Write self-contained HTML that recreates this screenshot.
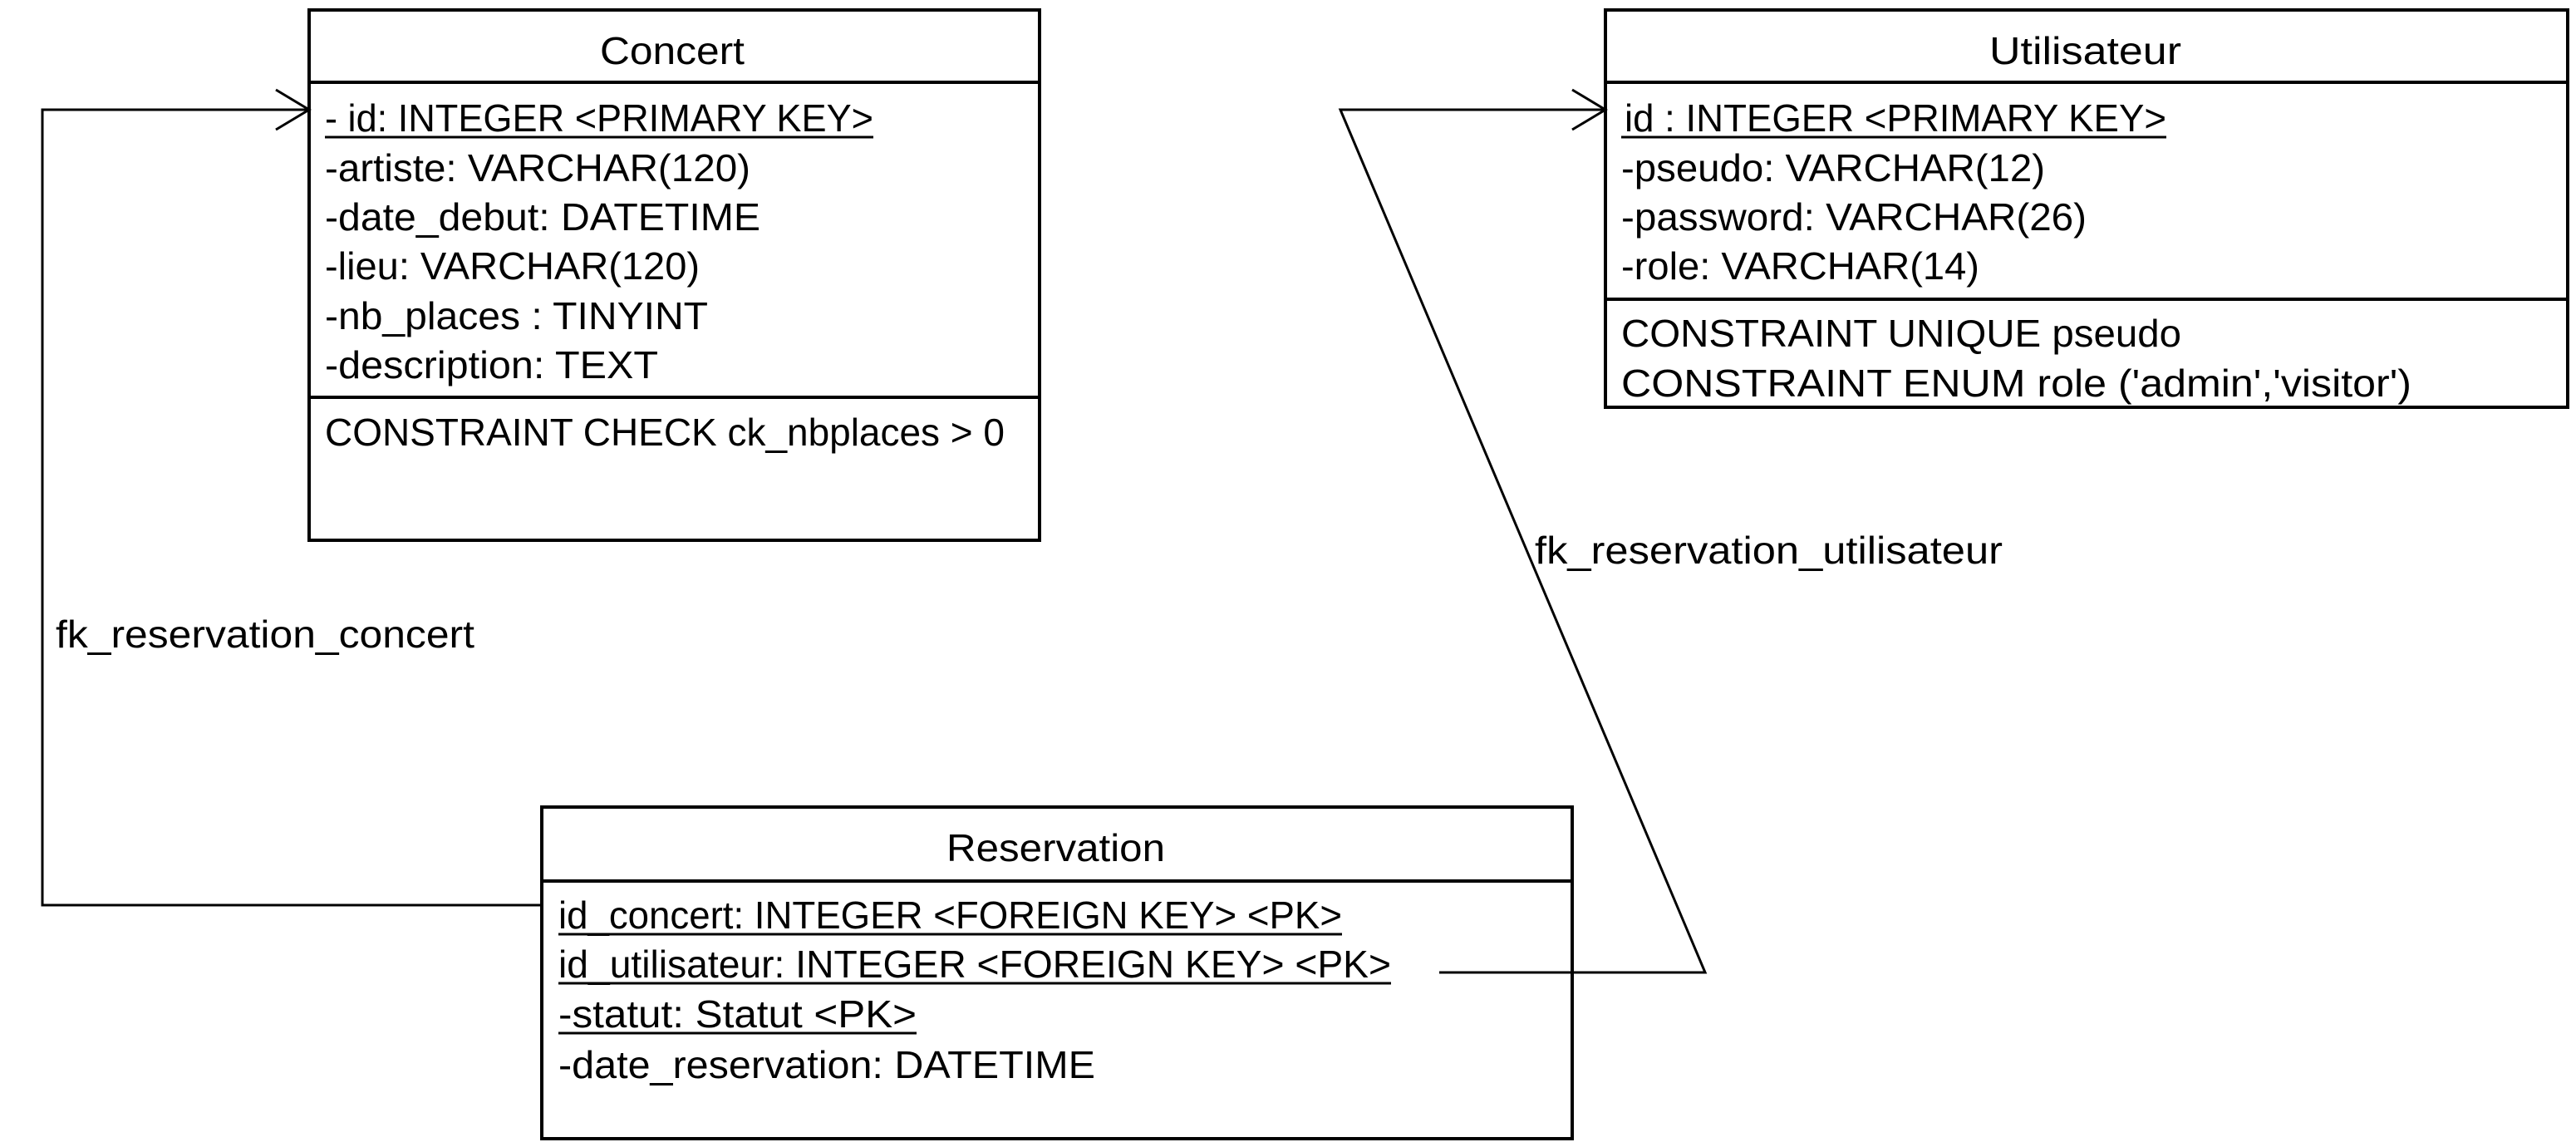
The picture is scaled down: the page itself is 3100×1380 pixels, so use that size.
<!DOCTYPE html>
<html><head><meta charset="utf-8"><style>html,body{margin:0;padding:0;background:#fff}svg{display:block}</style></head>
<body>
<svg width="3100" height="1380" viewBox="0 0 3100 1380" xmlns="http://www.w3.org/2000/svg" font-family="Liberation Sans, sans-serif" font-size="46" fill="#000">
<g fill="none" stroke="#000" stroke-width="4">
<rect x="372" y="12" width="879" height="638"/>
<line x1="372" y1="99" x2="1251" y2="99"/>
<line x1="372" y1="478" x2="1251" y2="478"/>
<rect x="1932" y="12" width="1158" height="478"/>
<line x1="1932" y1="99" x2="3090" y2="99"/>
<line x1="1932" y1="360" x2="3090" y2="360"/>
<rect x="652" y="971" width="1240" height="399"/>
<line x1="652" y1="1060" x2="1892" y2="1060"/>
</g>
<g fill="none" stroke="#000" stroke-width="3">
<polyline points="652,1089 51,1089 51,132 372,132"/>
<polyline points="332,108 372,132 332,156"/>
<polyline points="1732,1170 2052,1170 1613,132 1932,132"/>
<polyline points="1892,108 1932,132 1892,156"/>
</g>
<g stroke="#000" stroke-width="3">
<line x1="391" y1="165" x2="1051" y2="165"/>
<line x1="1951" y1="165" x2="2607" y2="165"/>
<line x1="672" y1="1124" x2="1615" y2="1124"/>
<line x1="672" y1="1183" x2="1674" y2="1183"/>
<line x1="672" y1="1243" x2="1103" y2="1243"/>
</g>
<g>
<text x="722" y="77" textLength="174" lengthAdjust="spacingAndGlyphs">Concert</text>
<text x="391" y="158" textLength="660" lengthAdjust="spacingAndGlyphs">- id: INTEGER &lt;PRIMARY KEY&gt;</text>
<text x="391" y="218" textLength="512" lengthAdjust="spacingAndGlyphs">-artiste: VARCHAR(120)</text>
<text x="391" y="277" textLength="524" lengthAdjust="spacingAndGlyphs">-date_debut: DATETIME</text>
<text x="391" y="336" textLength="451" lengthAdjust="spacingAndGlyphs">-lieu: VARCHAR(120)</text>
<text x="391" y="396" textLength="461" lengthAdjust="spacingAndGlyphs">-nb_places : TINYINT</text>
<text x="391" y="455" textLength="401" lengthAdjust="spacingAndGlyphs">-description: TEXT</text>
<text x="391" y="536" textLength="818" lengthAdjust="spacingAndGlyphs">CONSTRAINT CHECK ck_nbplaces &gt; 0</text>

<text x="2394" y="77" textLength="231" lengthAdjust="spacingAndGlyphs">Utilisateur</text>
<text x="1955" y="158" textLength="652" lengthAdjust="spacingAndGlyphs">id : INTEGER &lt;PRIMARY KEY&gt;</text>
<text x="1951" y="218" textLength="510" lengthAdjust="spacingAndGlyphs">-pseudo: VARCHAR(12)</text>
<text x="1951" y="277" textLength="560" lengthAdjust="spacingAndGlyphs">-password: VARCHAR(26)</text>
<text x="1951" y="336" textLength="431" lengthAdjust="spacingAndGlyphs">-role: VARCHAR(14)</text>
<text x="1951" y="417" textLength="674" lengthAdjust="spacingAndGlyphs">CONSTRAINT UNIQUE pseudo</text>
<text x="1951" y="477" textLength="951" lengthAdjust="spacingAndGlyphs">CONSTRAINT ENUM role ('admin','visitor')</text>

<text x="1139" y="1036" textLength="263" lengthAdjust="spacingAndGlyphs">Reservation</text>
<text x="672" y="1117" textLength="943" lengthAdjust="spacingAndGlyphs">id_concert: INTEGER &lt;FOREIGN KEY&gt; &lt;PK&gt;</text>
<text x="672" y="1176" textLength="1002" lengthAdjust="spacingAndGlyphs">id_utilisateur: INTEGER &lt;FOREIGN KEY&gt; &lt;PK&gt;</text>
<text x="672" y="1236" textLength="431" lengthAdjust="spacingAndGlyphs">-statut: Statut &lt;PK&gt;</text>
<text x="672" y="1297" textLength="646" lengthAdjust="spacingAndGlyphs">-date_reservation: DATETIME</text>

<text x="67" y="779" textLength="504" lengthAdjust="spacingAndGlyphs">fk_reservation_concert</text>
<text x="1847" y="678" textLength="563" lengthAdjust="spacingAndGlyphs">fk_reservation_utilisateur</text>
</g>
</svg>
</body></html>
